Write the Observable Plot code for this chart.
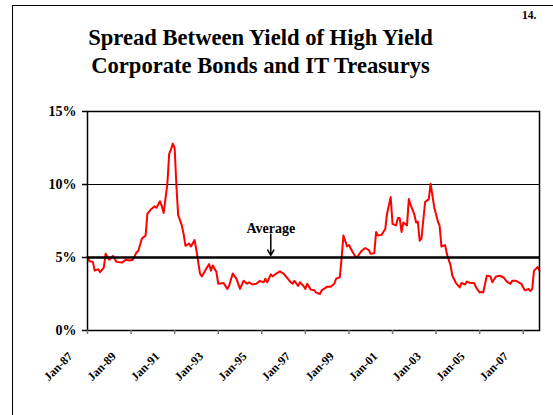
<!DOCTYPE html>
<html>
<head>
<meta charset="utf-8">
<script src="https://cdn.jsdelivr.net/npm/d3@7"></script>
<script src="https://cdn.jsdelivr.net/npm/@observablehq/plot@0.6"></script>
<style>
html, body { margin: 0; padding: 0; background: #fff; overflow: hidden; }
#wrap { position: relative; width: 553px; height: 415px; overflow: hidden;
  font-family: "Liberation Serif", "Times New Roman", serif; color: #000; }
#border { position: absolute; left: 12px; top: 5px; width: 700px; height: 600px;
  border: 1.5px solid #000; box-sizing: border-box; }
#title { position: absolute; left: 0; top: 24px; width: 521px; text-align: center;
  font-weight: bold; font-size: 22.6px; line-height: 28px; }
#page { position: absolute; left: 522px; top: 10px; font-size: 11.5px; font-weight: bold; line-height: 11px; }
#chart { position: absolute; left: 0; top: 100px; }
</style>
</head>
<body>
<div id="wrap">
  <div id="chart"></div>
  <div id="border"></div>
  <div id="title">Spread Between Yield of High Yield<br>Corporate Bonds and IT Treasurys</div>
  <div id="page">14.</div>
</div>
<script>
const months = [
  "1987-01","1987-02","1987-04","1987-05","1987-07","1987-08","1987-10","1987-11",
  "1988-01","1988-03","1988-05","1988-08","1988-10","1988-12",
  "1989-02","1989-04","1989-05","1989-07","1989-09","1989-10","1989-12",
  "1990-02","1990-03","1990-05","1990-06","1990-07","1990-09","1990-10","1990-11","1990-12",
  "1991-01","1991-02","1991-03","1991-05","1991-06","1991-07","1991-09","1991-10","1991-12",
  "1992-01","1992-03","1992-04","1992-06","1992-08","1992-09","1992-10","1992-12",
  "1993-01","1993-04","1993-06","1993-07","1993-09","1993-11",
  "1994-01","1994-03","1994-05","1994-06","1994-08","1994-10","1994-12",
  "1995-02","1995-03","1995-04","1995-06","1995-07","1995-09","1995-11",
  "1996-01","1996-03","1996-05","1996-06","1996-07","1996-09","1996-10","1996-12",
  "1997-01","1997-02","1997-04","1997-06","1997-07","1997-09","1997-10",
  "1998-01","1998-03","1998-05","1998-06","1998-08","1998-09","1998-10","1998-12",
  "1999-01","1999-03","1999-05","1999-06","1999-08","1999-10","1999-12",
  "2000-01","2000-03","2000-04","2000-05","2000-07","2000-09","2000-10","2000-12",
  "2001-01","2001-03","2001-04","2001-05","2001-06","2001-07","2001-09","2001-10","2001-11",
  "2002-01","2002-02","2002-03","2002-04","2002-05","2002-07","2002-09","2002-10","2002-12",
  "2003-02","2003-03","2003-04","2003-06","2003-07","2003-09","2003-10","2003-12",
  "2004-02","2004-03","2004-05","2004-06","2004-08","2004-10","2004-11",
  "2005-01","2005-02","2005-03","2005-05","2005-07","2005-08","2005-10","2005-12",
  "2006-02","2006-04","2006-06","2006-07","2006-09","2006-12",
  "2007-01","2007-02","2007-04","2007-05","2007-06","2007-07","2007-09","2007-10"
];
const spread = [
  5.05,4.75,4.7,4.1,4.2,4.0,4.3,5.25,
  4.85,5.1,4.7,4.65,4.85,4.8,
  4.85,5.35,5.45,6.3,6.5,8.0,8.3,
  8.5,8.4,8.85,8.5,8.05,10.05,12.1,12.4,12.8,
  12.5,9.8,7.9,7.2,6.6,5.8,5.95,5.75,6.2,
  5.5,3.9,3.7,4.15,4.55,4.1,4.45,4.0,
  3.2,3.25,2.85,3.05,3.9,3.55,
  2.85,3.4,3.2,3.3,3.15,3.2,3.4,
  3.3,3.55,3.3,3.85,3.7,3.9,4.05,
  3.9,3.6,3.3,3.2,3.4,3.05,3.3,3.05,
  2.85,3.2,2.8,2.75,2.6,2.5,2.75,
  3.0,3.0,3.2,3.55,3.65,5.0,6.5,5.75,
  5.85,5.4,5.0,5.1,5.45,5.65,5.5,
  5.25,5.3,6.75,6.5,6.55,6.95,8.0,9.15,
  7.3,7.2,7.7,7.7,6.75,7.4,7.2,9.0,8.6,
  7.95,7.4,7.45,6.15,6.3,8.8,9.0,10.05,8.45,
  7.45,7.2,5.75,5.85,5.25,4.45,3.75,3.25,
  2.95,3.25,3.15,3.35,3.25,3.25,2.95,
  2.6,2.65,2.6,3.75,3.7,3.3,3.7,3.75,
  3.65,3.35,3.2,3.4,3.4,3.2,
  2.95,2.75,2.85,2.7,2.85,4.1,4.35,4.1
];
const average = 5.0;
const avgLabel = "Average";
const avgLabelMonth = "1995-06";
const yTicks = [0, 5, 10, 15];
const xTickMonths = ["1987-01","1989-01","1991-01","1993-01","1995-01","1997-01","1999-01","2001-01","2003-01","2005-01","2007-01"];
const xTickLabels = ["Jan-87","Jan-89","Jan-91","Jan-93","Jan-95","Jan-97","Jan-99","Jan-01","Jan-03","Jan-05","Jan-07"];
const xStart = "1987-01";
const xEnd = "2007-10";

const toDate = s => { const [y, m] = s.split("-").map(Number); return new Date(Date.UTC(y, m - 1, 1)); };
const data = months.map((m, i) => ({date: toDate(m), value: spread[i]}));
const tickDates = xTickMonths.map(toDate);
const tickLabelOf = d => xTickLabels[tickDates.findIndex(t => +t === +d)];
const note = [{date: toDate(avgLabelMonth), label: avgLabel, textY: average + 2.0, y1: average + 1.6, y2: average + 0.15}];

const serif = "'Liberation Serif', 'Times New Roman', serif";
const chart = Plot.plot({
  width: 553,
  height: 315,
  marginLeft: 87,
  marginRight: 14,
  marginTop: 11,
  marginBottom: 85,
  style: {fontFamily: serif, background: "none", color: "#000", overflow: "visible"},
  x: {type: "utc", domain: [toDate(xStart), toDate(xEnd)]},
  y: {domain: [0, 15]},
  marks: [
    Plot.ruleY([10], {stroke: "#000", strokeWidth: 1}),
    Plot.line(data, {x: "date", y: "value", stroke: "#ff0000", strokeWidth: 2}),
    Plot.ruleY([average], {stroke: "#000", strokeWidth: 2.6}),
    Plot.frame({stroke: "#000", strokeWidth: 1.5}),
    Plot.axisY({ticks: yTicks, tickFormat: d => d + "%", tickSize: 5, tickPadding: 6,
      fontSize: 14, fontWeight: "bold", label: null, strokeWidth: 1.5}),
    Plot.axisX({ticks: tickDates, tickSize: 4, stroke: "#777", strokeWidth: 1.5, text: null, label: null}),
    Plot.axisX({ticks: tickDates, tickFormat: tickLabelOf, tickSize: 0, tickRotate: -45,
      fontSize: 12, fontWeight: "bold", label: null, dx: -17, dy: 12}),
    Plot.text(note, {x: "date", y: "textY", text: "label", fontSize: 14, fontWeight: "bold", fontFamily: serif}),
    Plot.arrow(note, {x1: "date", x2: "date", y1: "y1", y2: "y2", stroke: "#000", strokeWidth: 1.5, headLength: 6})
  ]
});
document.getElementById("chart").appendChild(chart);
</script>
</body>
</html>
